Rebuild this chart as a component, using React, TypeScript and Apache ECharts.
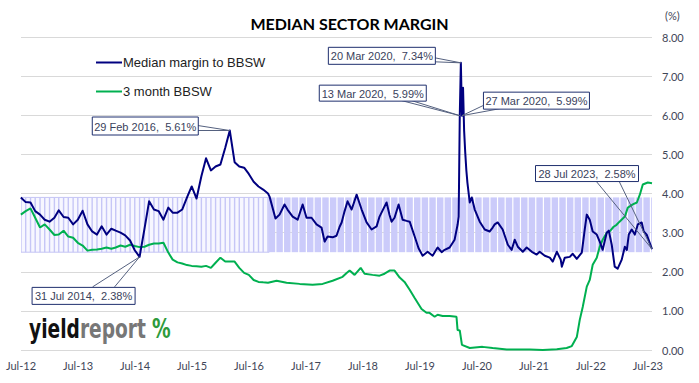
import React, { useEffect, useRef } from "react";
import * as echarts from "echarts";

// ---------- data ----------
const TITLE = "MEDIAN SECTOR MARGIN";
const SERIES_NAMES = ["Median margin to BBSW", "3 month BBSW"];
const X_TICK_YEARS = ["12", "13", "14", "15", "16", "17", "18", "19", "20", "21", "22", "23"];
const Y_MIN = 0;
const Y_MAX = 8;
const Y_STEP = 1;
const BAND_LOW = 2.5;
const BAND_HIGH = 3.9;
const AXIS_ORIGIN = "2012-07-01";
const AXIS_END = "2023-07-28";

// month-end observations, June 2012 .. October 2016
const navyMonthly = [
  3.90, 3.78, 3.77, 3.55, 3.46, 3.33, 3.28, 3.38, 3.57, 3.40, 3.38, 3.21, 3.33, 3.56, 3.21, 3.03,
  2.95, 3.16, 2.95, 3.10, 3.05, 3.00, 2.93, 2.80, 2.55, 2.38, 3.09, 3.80, 3.59, 3.55, 3.33, 3.64,
  3.51, 3.51, 3.59, 3.90, 4.18, 3.87, 4.44, 4.90, 4.59, 4.69, 4.74, 5.17, 5.61, 4.80, 4.69, 4.66,
  4.50, 4.30, 4.18, 4.10, 4.00,
];
const greenMonthly = [
  3.46, 3.55, 3.62, 3.38, 3.13, 3.21, 3.08, 2.94, 2.95, 3.05, 2.90, 2.87, 2.74, 2.67, 2.54, 2.56,
  2.57, 2.59, 2.62, 2.59, 2.62, 2.67, 2.64, 2.69, 2.66, 2.63, 2.64, 2.69, 2.72, 2.72, 2.74, 2.49,
  2.31, 2.24, 2.21, 2.17, 2.15, 2.14, 2.13, 2.15, 2.10, 2.23, 2.36, 2.26, 2.26, 2.26, 2.10, 1.97,
  1.92, 1.79, 1.74, 1.73, 1.72,
];

// weekly-era observations (sampled), November 2016 .. July 2023
const navyWeekly: [string, number][] = [
  ["2016-11-10", 3.92], ["2016-12-18", 3.36], ["2017-01-13", 3.46], ["2017-02-14", 3.72],
  ["2017-03-05", 3.59], ["2017-04-07", 3.41], ["2017-05-09", 3.33], ["2017-06-10", 3.72],
  ["2017-07-05", 3.38], ["2017-08-06", 3.38], ["2017-09-07", 3.21], ["2017-10-09", 3.13],
  ["2017-10-29", 2.77], ["2017-11-17", 2.90], ["2017-12-19", 2.88], ["2018-01-13", 2.92],
  ["2018-02-02", 3.15], ["2018-02-15", 3.26], ["2018-03-06", 3.55], ["2018-03-25", 3.80],
  ["2018-04-20", 3.59], ["2018-05-22", 3.97], ["2018-06-23", 3.59], ["2018-07-25", 3.26],
  ["2018-08-26", 3.08], ["2018-09-27", 3.16], ["2018-10-16", 3.41], ["2018-11-11", 3.62],
  ["2018-11-30", 3.77], ["2018-12-19", 3.45], ["2019-01-01", 3.28], ["2019-01-20", 3.38],
  ["2019-02-15", 3.72], ["2019-03-13", 3.33], ["2019-04-07", 3.30], ["2019-04-27", 3.28],
  ["2019-05-29", 2.90], ["2019-06-23", 2.60], ["2019-07-19", 2.41], ["2019-08-20", 2.51],
  ["2019-09-21", 2.41], ["2019-10-23", 2.62], ["2019-11-18", 2.50], ["2019-12-07", 2.56],
  ["2020-01-08", 2.62], ["2020-02-09", 2.82], ["2020-02-28", 3.20], ["2020-03-06", 3.41],
  ["2020-03-13", 5.99], ["2020-03-20", 7.34], ["2020-03-27", 5.99], ["2020-04-03", 6.70],
  ["2020-04-10", 5.60], ["2020-04-17", 5.05], ["2020-04-24", 4.60], ["2020-05-01", 4.28],
  ["2020-05-16", 3.77], ["2020-05-29", 3.90], ["2020-06-17", 3.59], ["2020-07-19", 3.28],
  ["2020-08-20", 3.08], ["2020-09-21", 3.03], ["2020-10-10", 3.13], ["2020-10-23", 3.21],
  ["2020-11-11", 3.26], ["2020-12-13", 3.08], ["2021-01-15", 2.69], ["2021-02-09", 2.56],
  ["2021-02-28", 2.82], ["2021-03-20", 2.64], ["2021-04-21", 2.51], ["2021-05-16", 2.62],
  ["2021-06-18", 2.51], ["2021-07-19", 2.44], ["2021-08-07", 2.51], ["2021-09-09", 2.41],
  ["2021-10-11", 2.36], ["2021-10-30", 2.26], ["2021-11-25", 2.51], ["2021-12-20", 2.31],
  ["2021-12-27", 2.13], ["2022-01-15", 2.36], ["2022-02-16", 2.38], ["2022-03-07", 2.46],
  ["2022-04-02", 2.33], ["2022-05-04", 2.49], ["2022-05-23", 3.08], ["2022-06-05", 3.46],
  ["2022-06-24", 3.33], ["2022-07-13", 3.03], ["2022-08-08", 2.95], ["2022-08-27", 2.77],
  ["2022-09-15", 2.56], ["2022-10-11", 3.00], ["2022-10-24", 3.05], ["2022-11-12", 2.69],
  ["2022-12-01", 2.13], ["2022-12-20", 2.08], ["2023-01-15", 2.31], ["2023-02-04", 2.64],
  ["2023-02-17", 2.56], ["2023-03-01", 2.95], ["2023-03-20", 3.08], ["2023-04-09", 2.95],
  ["2023-04-28", 3.21], ["2023-05-23", 3.26], ["2023-06-05", 3.03], ["2023-06-24", 2.95],
  ["2023-07-28", 2.58],
];
const greenWeekly: [string, number][] = [
  ["2016-12-25", 1.77], ["2017-02-27", 1.72], ["2017-05-22", 1.69], ["2017-08-13", 1.67],
  ["2017-10-16", 1.69], ["2017-12-19", 1.77], ["2018-02-21", 1.87], ["2018-03-19", 1.97],
  ["2018-04-07", 2.03], ["2018-05-09", 1.92], ["2018-06-17", 2.10], ["2018-07-12", 1.95],
  ["2018-09-01", 1.92], ["2018-10-16", 1.90], ["2018-11-17", 1.95], ["2018-12-19", 2.03],
  ["2019-01-20", 2.03], ["2019-02-22", 1.85], ["2019-03-25", 1.74], ["2019-04-27", 1.54],
  ["2019-05-29", 1.33], ["2019-07-12", 1.05], ["2019-08-13", 0.95], ["2019-09-01", 0.95],
  ["2019-10-04", 0.85], ["2019-10-23", 0.90], ["2019-11-24", 0.87], ["2020-01-08", 0.87],
  ["2020-02-21", 0.85], ["2020-02-28", 0.51], ["2020-03-13", 0.50], ["2020-03-27", 0.13],
  ["2020-05-16", 0.05], ["2020-08-06", 0.08], ["2020-10-10", 0.05], ["2021-01-08", 0.01],
  ["2021-06-05", 0.01], ["2021-08-27", 0.00], ["2021-11-25", 0.02], ["2022-01-27", 0.05],
  ["2022-03-01", 0.10], ["2022-04-02", 0.33], ["2022-04-21", 0.77], ["2022-05-10", 1.10],
  ["2022-06-05", 1.62], ["2022-06-24", 1.79], ["2022-07-13", 2.18], ["2022-08-08", 2.36],
  ["2022-08-27", 2.64], ["2022-09-15", 2.82], ["2022-10-11", 3.00], ["2022-10-30", 3.03],
  ["2022-11-24", 3.15], ["2022-12-13", 3.20], ["2023-01-01", 3.28], ["2023-02-04", 3.41],
  ["2023-02-23", 3.64], ["2023-03-27", 3.72], ["2023-04-22", 3.77], ["2023-05-11", 3.97],
  ["2023-05-30", 4.23], ["2023-07-01", 4.28], ["2023-07-28", 4.26],
];

// annotated observations
const calloutPoints: [string, number][] = [
  ["2016-02-29", 5.61],
  ["2020-03-20", 7.34],
  ["2020-03-13", 5.99],
  ["2020-03-27", 5.99],
  ["2014-07-31", 2.38],
  ["2023-07-28", 2.58],
];

const LOGO_PARTS = ["yield", "report", "%"];

// ---------- helpers ----------
const DAY = 86400000;
const YEAR = 365.25 * DAY;
const toX = (d: string) => (Date.parse(d) - Date.parse(AXIS_ORIGIN)) / YEAR;
const monthEnd = (k: number) => new Date(Date.UTC(2012, 6 + k, 0)).toISOString().slice(0, 10);
const monthlyDates = navyMonthly.map((_, k) => monthEnd(k));
const fmtDate = (d: string) => {
  const dt = new Date(d);
  const m = ["Jan", "Feb", "Mar", "Apr", "May", "Jun", "Jul", "Aug", "Sep", "Oct", "Nov", "Dec"][dt.getUTCMonth()];
  return `${dt.getUTCDate()} ${m} ${dt.getUTCFullYear()}`;
};

// callout layout (box offset from the point, box size, wedge base points within box)
const calloutLayout = [
  { dx: -138, dy: -14, w: 106, h: 18, base: [[106, 9], [106, 14]] },
  { dx: -133, dy: -16, w: 107, h: 17, base: [[107, 11], [107, 15]] },
  { dx: -141, dy: -31, w: 107, h: 16, base: [[83, 16], [93, 16]] },
  { dx: 21, dy: -24, w: 106, h: 17, base: [[0, 14], [17, 17]] },
  { dx: -108, dy: 30, w: 103, h: 17, base: [[61, 0], [83, 0]] },
  { dx: -117, dy: -84, w: 103, h: 16, base: [[61, 16], [84, 16]] },
];

const NAVY = "#000080";
const GREEN = "#00b050";
const LABEL_COLOR = "#3f4658";
const LOGO_FONT = "'Liberation Sans Narrow', 'DejaVu Sans Condensed', 'Liberation Sans', sans-serif";

function measure(text: string, font: string) {
  const c = document.createElement("canvas").getContext("2d");
  if (!c) return text.length * 12;
  c.font = font;
  return c.measureText(text).width;
}

export default function App() {
  const ref = useRef<HTMLDivElement>(null);
  useEffect(() => {
    if (!ref.current) return;
    const chart = echarts.init(ref.current, undefined, { renderer: "svg" });

    const navyData = [
      ...monthlyDates.map((d, i) => [toX(d), navyMonthly[i]]),
      ...navyWeekly.map(([d, v]) => [toX(d), v]),
    ];
    const greenData = [
      ...monthlyDates.map((d, i) => [toX(d), greenMonthly[i]]),
      ...greenWeekly.map(([d, v]) => [toX(d), v]),
    ];

    // band: monthly era drawn as thin columns, weekly era as solid blocks with gaps
    const bandData: number[][] = [];
    const era1Start = toX(monthlyDates[0]);
    const era1End = toX(monthlyDates[monthlyDates.length - 1]);
    bandData.push([era1Start, era1End + 0.02, 0]);
    monthlyDates.forEach((d) => bandData.push([toX(d), toX(d), 1]));
    const gapStep = 49 * DAY;
    let t = Date.parse("2016-11-01");
    const endT = Date.parse(AXIS_END);
    while (t < endT) {
      const n = Math.min(t + gapStep, endT + 3 * DAY);
      bandData.push([(t - Date.parse(AXIS_ORIGIN)) / YEAR, (n - Date.parse(AXIS_ORIGIN)) / YEAR, 2]);
      t = n;
    }

    const option: any = {
      animation: false,
      backgroundColor: "#ffffff",
      title: {
        text: TITLE,
        left: "center",
        top: 10,
        textStyle: { fontFamily: "Lato", fontWeight: "bold", fontSize: 16, color: "#000" },
      },
      legend: {
        data: SERIES_NAMES,
        orient: "vertical",
        left: 91,
        top: 51,
        itemWidth: 26,
        itemHeight: 2,
        itemGap: 16,
        icon: "rect",
        textStyle: { fontFamily: "Liberation Sans, Arial", fontSize: 13, color: "#222", padding: [0, 0, 0, -4] },
      },
      grid: { left: 21, right: 47, top: 37, bottom: 33 },
      xAxis: {
        type: "value",
        min: 0,
        max: toX(AXIS_END),
        interval: 1,
        axisLine: { show: false },
        axisTick: { show: false },
        splitLine: { show: false },
        axisLabel: {
          showMaxLabel: false,
          margin: 10,
          color: LABEL_COLOR,
          fontFamily: "Lato",
          fontSize: 11,
          formatter: (v: number) => {
            const i = Math.round(v);
            if (Math.abs(v - i) > 0.001 || i < 0 || i >= X_TICK_YEARS.length) return "";
            return "Jul-" + X_TICK_YEARS[i];
          },
        },
      },
      yAxis: {
        type: "value",
        position: "right",
        min: Y_MIN,
        max: Y_MAX,
        interval: Y_STEP,
        axisLine: { show: false },
        axisTick: { show: false },
        splitLine: { lineStyle: { color: "#d9d9d9", width: 1 } },
        axisLabel: {
          margin: 10,
          color: LABEL_COLOR,
          fontFamily: "Lato",
          fontSize: 11,
          formatter: (v: number) => v.toFixed(2),
        },
      },
      series: [
        {
          type: "custom",
          name: "band",
          silent: true,
          z: 1,
          clip: true,
          data: bandData,
          encode: { x: [0, 1], y: 2 },
          renderItem: (_p: any, api: any) => {
            const x0 = api.value(0);
            const x1 = api.value(1);
            const kind = api.value(2);
            const a = api.coord([x0, BAND_HIGH]);
            const b = api.coord([x1, BAND_LOW]);
            const h = b[1] - a[1];
            if (kind === 0) {
              return {
                type: "rect",
                shape: { x: a[0], y: a[1], width: b[0] - a[0], height: h },
                style: { fill: "#f7f7ff", stroke: "#c4c4f4", lineWidth: 1 },
              };
            }
            if (kind === 1) {
              return {
                type: "rect",
                shape: { x: a[0] - 0.7, y: a[1], width: 1.4, height: h },
                style: { fill: "#c6c6f6" },
              };
            }
            return {
              type: "rect",
              shape: { x: a[0] + 0.6, y: a[1], width: Math.max(0, b[0] - a[0] - 1.2), height: h },
              style: { fill: "#cbcbfa" },
            };
          },
        },
        {
          type: "line",
          name: SERIES_NAMES[1],
          data: greenData,
          symbol: "none",
          z: 3,
          color: GREEN,
          lineStyle: { color: GREEN, width: 2 },
        },
        {
          type: "line",
          name: SERIES_NAMES[0],
          data: navyData,
          symbol: "none",
          z: 4,
          color: NAVY,
          lineStyle: { color: NAVY, width: 2, join: "round" },
        },
      ],
    };
    chart.setOption(option);

    const graphics: any[] = [];
    calloutPoints.forEach(([d, v], i) => {
      const L = calloutLayout[i];
      const p = chart.convertToPixel({ gridIndex: 0 }, [toX(d), v]) as number[];
      const bx = p[0] + L.dx;
      const by = p[1] + L.dy;
      graphics.push({
        type: "polyline",
        z: 100,
        shape: { points: [[bx + L.base[0][0], by + L.base[0][1]], [p[0], p[1]], [bx + L.base[1][0], by + L.base[1][1]]] },
        style: { stroke: "#55617f", lineWidth: 1, fill: null },
      });
      graphics.push({
        type: "rect",
        z: 101,
        shape: { x: bx + 0.5, y: by + 0.5, width: L.w, height: L.h },
        style: { fill: "#ffffff", stroke: "#1f2f6e", lineWidth: 1 },
      });
      graphics.push({
        type: "text",
        z: 102,
        x: bx + 0.5 + L.w / 2,
        y: by + 0.5 + L.h / 2 + 0.5,
        style: {
          text: `${fmtDate(d)},  ${v.toFixed(2)}%`,
          fill: "#3a3f5c",
          font: "11px 'Liberation Sans', Arial, sans-serif",
          align: "center",
          verticalAlign: "middle",
        },
      });
    });
    graphics.push({
      type: "text",
      left: 665,
      top: 10,
      style: { text: "(%)", fill: LABEL_COLOR, font: "11px Lato" },
    });

    // logo: condensed bold word mark, squeezed horizontally to the reference width
    const logoSize = 27;
    const logoFontCss = `bold ${logoSize}px ${LOGO_FONT}`;
    const wordW = measure(LOGO_PARTS[0] + LOGO_PARTS[1], logoFontCss);
    const yieldW = measure(LOGO_PARTS[0], logoFontCss);
    const sx = 117 / wordW;
    const logoX = 29;
    const logoBase = 343;
    graphics.push({
      type: "text",
      x: logoX,
      y: logoBase,
      scaleX: sx,
      z: 50,
      style: { text: LOGO_PARTS[0], fill: "#111111", font: logoFontCss, verticalAlign: "bottom" },
    });
    graphics.push({
      type: "text",
      x: logoX + yieldW * sx,
      y: logoBase,
      scaleX: sx,
      z: 50,
      style: { text: LOGO_PARTS[1], fill: "#777777", font: logoFontCss, verticalAlign: "bottom" },
    });
    graphics.push({
      type: "text",
      x: logoX + 117 + 6,
      y: logoBase,
      scaleX: sx,
      z: 50,
      style: { text: LOGO_PARTS[2], verticalAlign: "bottom", font: logoFontCss, fill: "#2e9b3c" },
    });
    chart.setOption({ graphic: graphics });

    return () => chart.dispose();
  }, []);

  return (
    <div
      ref={ref}
      style={{ position: "absolute", left: 0, top: 0, width: 699, height: 383, background: "#fff" }}
    />
  );
}
